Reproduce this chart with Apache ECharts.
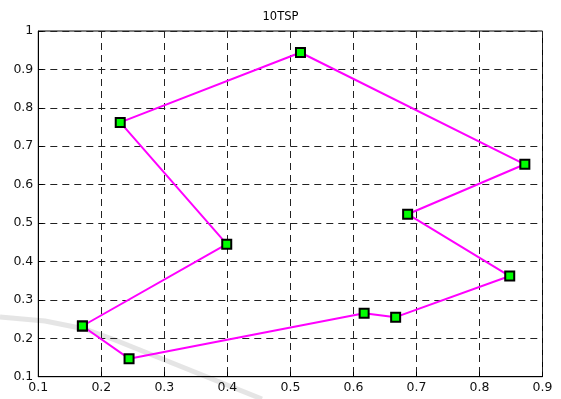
<!DOCTYPE html>
<html><head><meta charset="utf-8">
<script src="https://cdn.jsdelivr.net/npm/echarts@6/dist/echarts.min.js"></script>
<style>html,body{margin:0;padding:0;background:#fff}#c{width:561px;height:399px}</style>
</head><body><div id="c"></div>
<script>
const titleText = '10TSP';
const tourX = [0.170, 0.399, 0.230, 0.516, 0.872, 0.686, 0.848, 0.667, 0.617, 0.244, 0.170];
const tourY = [0.232, 0.445, 0.762, 0.944, 0.653, 0.523, 0.362, 0.255, 0.265, 0.147, 0.232];
const xTicks = [0.1, 0.9, 0.1];
const yTicks = [0.1, 1, 0.1];

const fmt = v => { const r = Math.round(v * 10) / 10; return r === 1 ? '1' : String(r); };
const font = 'DejaVu Sans, Liberation Sans, Arial';
const chart = echarts.init(document.getElementById('c'));
chart.setOption({
  animation: false,
  backgroundColor: '#fff',
  title: { text: titleText, left: 'center', top: 6, textStyle: { fontFamily: font, fontSize: 11.5, fontWeight: 'normal', color: '#000' } },
  grid: { left: 38.3, right: 18.5, top: 31, bottom: 22.3, show: true, borderColor: '#000', borderWidth: 1 },
  xAxis: { type: 'value', min: xTicks[0], max: xTicks[1], interval: xTicks[2],
    axisLine: { lineStyle: { color: '#000' } },
    axisTick: { inside: true, length: 5, lineStyle: { color: '#000' } },
    axisLabel: { formatter: fmt, color: '#111', fontFamily: font, fontSize: 12.5, margin: 5 },
    splitLine: { show: true, lineStyle: { color: '#222', type: [7, 5], width: 1 } } },
  yAxis: { type: 'value', min: yTicks[0], max: yTicks[1], interval: yTicks[2],
    axisLine: { show: true, lineStyle: { color: '#000' } },
    axisTick: { show: true, inside: true, length: 5, lineStyle: { color: '#000' } },
    axisLabel: { formatter: fmt, color: '#111', fontFamily: font, fontSize: 12.5, margin: 5 },
    splitLine: { show: true, lineStyle: { color: '#222', type: [7, 5], width: 1 } } },
  graphic: [{ type: 'polyline', z: -1, silent: true,
    shape: { points: [[0, 317], [45, 321], [85, 329], [115, 340], [262, 399]] },
    style: { stroke: 'rgba(175,175,175,0.32)', lineWidth: 5, fill: null, lineJoin: 'round' } }],
  series: [{
    type: 'line',
    data: tourX.map((x, i) => [x, tourY[i]]),
    lineStyle: { color: '#ff00ff', width: 2 },
    symbol: 'rect', symbolSize: 9,
    itemStyle: { color: '#00ff00', borderColor: '#000', borderWidth: 2 },
    z: 3
  }]
});
</script></body></html>
